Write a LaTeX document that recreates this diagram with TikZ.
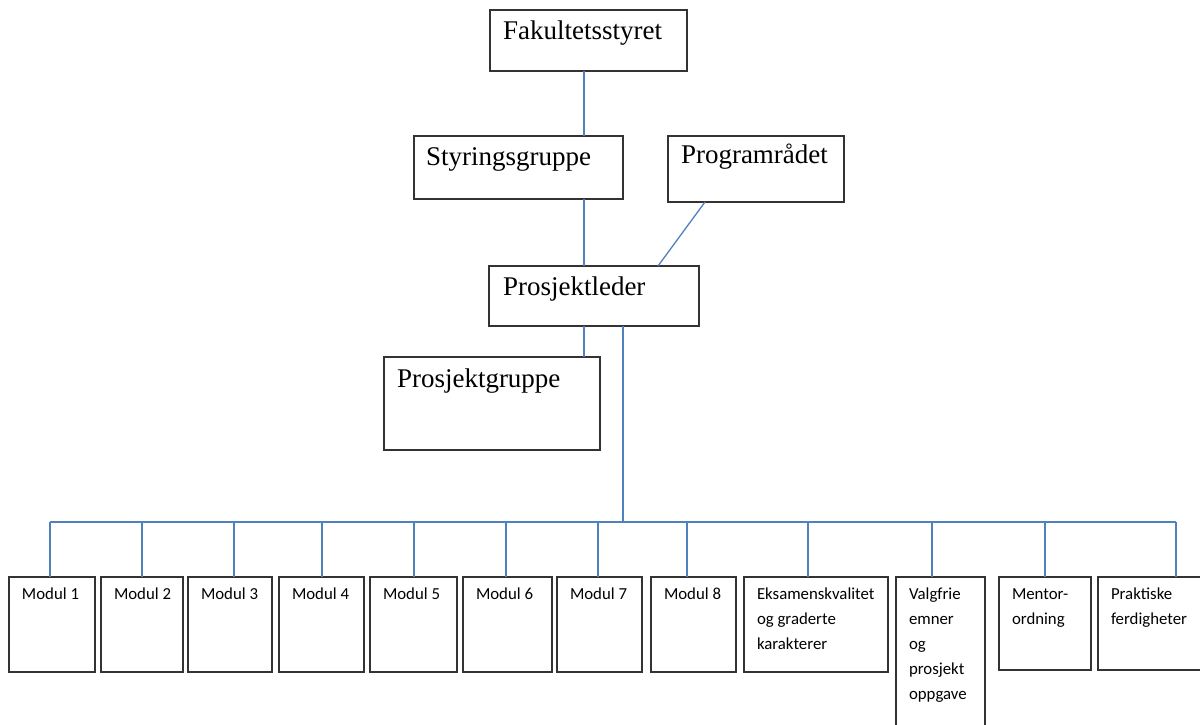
\documentclass[tikz,border=0pt]{standalone}
\usepackage{fontspec}
\setmainfont{Liberation Serif}
\newfontfamily\calfont{Carlito}
\tikzset{
  orgbox/.style={draw=black!80, line width=1.4pt, inner sep=0pt, outer sep=0pt, anchor=north west, fill=white},
  link/.style={draw={rgb,255:red,79;green,129;blue,189}, line width=1.3pt}
}
\newcommand\obox[7]{%
  \pgfmathsetmacro\bw{#4-#2}\pgfmathsetmacro\bh{#5-#3}%
  \node[orgbox] (#1) at (#2,#3) {\parbox[t][\bh pt][t]{\bw pt}{#6#7}};%
}
\newcommand\topfont[2]{\fontsize{27}{32}\selectfont\leftskip=#2pt\relax\rule{0pt}{#1pt}}
\newcommand\botfont{\calfont\fontsize{16.8}{25}\selectfont\raggedright\leftskip=13pt\relax\rule{0pt}{22pt}}
\begin{document}
\begin{tikzpicture}[x=1pt,y=-1pt]
\useasboundingbox (0,0) rectangle (1200,724);
\clip (0,0) rectangle (1200,724);
% upper boxes
\obox{fak}{490}{10}{687}{71}{\topfont{29}{13}}{Fakultetsstyret}
\obox{sty}{414}{136}{623}{199}{\topfont{29}{12}}{Styringsgruppe}
\obox{prog}{668}{136}{844}{202}{\topfont{27}{13}}{Programrådet}
\obox{pl}{489}{266}{699}{326}{\topfont{29}{14}}{Prosjektleder}
\obox{pg}{384}{357}{600}{450}{\topfont{30}{13}}{Prosjektgruppe}
% bottom boxes
\obox{m1}{9}{577}{95}{672}{\botfont}{Modul 1}
\obox{m2}{101}{577}{183}{672}{\botfont}{Modul 2}
\obox{m3}{188}{577}{272}{672}{\botfont}{Modul 3}
\obox{m4}{279}{577}{364}{672}{\botfont}{Modul 4}
\obox{m5}{370}{577}{457}{672}{\botfont}{Modul 5}
\obox{m6}{463}{577}{552}{672}{\botfont}{Modul 6}
\obox{m7}{557}{577}{642}{672}{\botfont}{Modul 7}
\obox{m8}{651}{577}{736}{672}{\botfont}{Modul 8}
\obox{eks}{744}{577}{888}{672}{\botfont}{Eksamenskvalitet\\og graderte\\karakterer}
\obox{valg}{896}{577}{985}{745}{\botfont}{Valgfrie\\emner\\og\\prosjekt\\oppgave}
\obox{ment}{999}{577}{1091}{670}{\botfont}{Mentor-\\ordning}
\obox{prak}{1098}{577}{1206}{670}{\botfont}{Praktiske\\ferdigheter}
% helper coordinates
\coordinate (xa) at (584,0);
\coordinate (xt) at (623,0);
\coordinate (bus) at (0,522);
% connectors
\draw[link] (fak.south -| xa) -- (sty.north -| xa);
\draw[link] (sty.south -| xa) -- (pl.north -| xa);
\draw[link] ([xshift=37pt]prog.south west) -- ([xshift=169pt]pl.north west);
\draw[link] (pl.south -| xa) -- (pg.north -| xa);
\draw[link] (pl.south -| xt) -- (bus -| xt);
\draw[link] (bus -| 50,0) -- (bus -| 1176,0);
\foreach \n/\x in {m1/50,m2/142,m3/234,m4/322,m5/414,m6/506,m7/598,m8/687,eks/808,valg/932,ment/1045,prak/1176}{
  \draw[link] (bus -| \x,0) -- (\n.north -| \x,0);
}
\end{tikzpicture}
\end{document}
